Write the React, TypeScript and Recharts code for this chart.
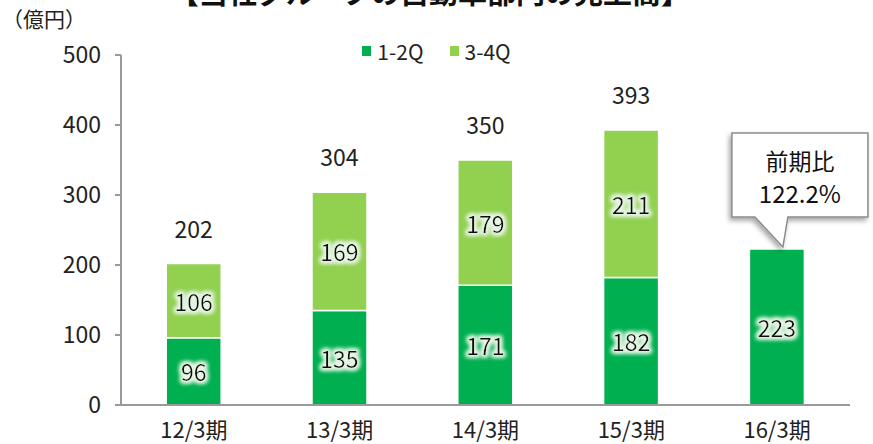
import React from "react";
import { BarChart, Bar, XAxis, YAxis, Legend, LabelList } from "recharts";

const categories = ["12/3期", "13/3期", "14/3期", "15/3期", "16/3期"];
const firstHalf = [96, 135, 171, 182, 223];
const secondHalf: (number | null)[] = [106, 169, 179, 211, null];
const totals: (number | null)[] = [202, 304, 350, 393, null];
const yTicks = [0, 100, 200, 300, 400, 500];
const seriesNames = ["1-2Q", "3-4Q"];
const calloutLines = ["前期比", "122.2%"];
const titleText = "【当社グループの自動車部門の売上高】";
const unitText = "（億円）";

const data = categories.map((c, i) => ({
  name: c,
  h1: firstHalf[i],
  h2: secondHalf[i],
  total: totals[i],
}));

const FONT = "'Noto Sans CJK JP', 'Noto Sans', sans-serif";
const DARK = "#00B050";
const LIGHT = "#92D050";

const InnerLabel = (props: any) => {
  const { x, y, width, height, value } = props;
  if (value == null || !width) return null;
  return (
    <text
      x={x + width / 2}
      y={y + height / 2}
      textAnchor="middle"
      dominantBaseline="central"
      fontSize={23}
      fontFamily={FONT}
      fill="#111"
      filter="url(#glow)"
    >
      {value}
    </text>
  );
};

const TotalLabel = (props: any) => {
  const { x, y, width, index } = props;
  const t = totals[index];
  if (t == null || !width) return null;
  return (
    <text
      x={x + width / 2}
      y={y - 36}
      textAnchor="middle"
      dominantBaseline="central"
      fontSize={23}
      fontFamily={FONT}
      fill="#222"
    >
      {t}
    </text>
  );
};

const CalloutLabel = (props: any) => {
  const { x, y, width, index } = props;
  if (index !== categories.length - 1) return null;
  const cx = x + width / 2;
  const tipX = cx + 6;
  const tipY = y - 2;
  const left = cx - 45;
  const right = cx + 91;
  const top = y - 116;
  const bottom = y - 32;
  const bx = (left + right) / 2;
  const path = `M${left},${top} L${right},${top} L${right},${bottom} L${cx + 11},${bottom} L${tipX},${tipY} L${cx - 22},${bottom} L${left},${bottom} Z`;
  return (
    <g>
      <path d={path} fill="#fff" stroke="#8c8c8c" strokeWidth={1.5} filter="url(#shadow)" />
      <text x={bx} y={top + 27} textAnchor="middle" dominantBaseline="central" fontSize={23} fontFamily={FONT} fill="#111">
        {calloutLines[0]}
      </text>
      <text x={bx} y={top + 60} textAnchor="middle" dominantBaseline="central" fontSize={24} fontFamily={FONT} fill="#111">
        {calloutLines[1]}
      </text>
    </g>
  );
};

const LegendContent = () => {
  const colors = [DARK, LIGHT];
  return (
    <div style={{ display: "flex", justifyContent: "center", fontFamily: FONT, fontSize: 21, color: "#222", lineHeight: "26px" }}>
      {seriesNames.map((n, i) => (
        <div key={n} style={{ display: "flex", alignItems: "center", marginLeft: i ? 26 : 0 }}>
          <div style={{ width: 9, height: 10, background: colors[i], marginRight: 6 }} />
          <span>{n}</span>
        </div>
      ))}
    </div>
  );
};

export default function App() {
  return (
    <div style={{ position: "absolute", left: 0, top: 0, width: 873, height: 444, background: "#fff", overflow: "hidden" }}>
      <svg width={0} height={0} style={{ position: "absolute" }}>
        <defs>
          <filter id="glow" x="-30%" y="-30%" width="160%" height="160%">
            <feMorphology in="SourceAlpha" operator="dilate" radius="2" result="d" />
            <feGaussianBlur in="d" stdDeviation="2.2" result="b" />
            <feFlood floodColor="#e6f5e4" result="f" />
            <feComposite in="f" in2="b" operator="in" result="g" />
            <feMerge>
              <feMergeNode in="g" />
              <feMergeNode in="g" />
              <feMergeNode in="SourceGraphic" />
            </feMerge>
          </filter>
          <filter id="shadow" x="-20%" y="-20%" width="140%" height="140%">
            <feDropShadow dx="-2" dy="3" stdDeviation="2.5" floodColor="#000" floodOpacity="0.35" />
          </filter>
        </defs>
      </svg>
      <BarChart
        width={873}
        height={444}
        data={data}
        margin={{ top: 29, right: 23, bottom: 0, left: 0 }}
        barCategoryGap="31%"
      >
        <XAxis
          dataKey="name"
          height={39}
          axisLine={{ stroke: "#9a9a9a", strokeWidth: 2 }}
          tickLine={{ stroke: "#9a9a9a", strokeWidth: 2 }}
          tickSize={0}
          interval={0}
          tick={{ fontSize: 22, fontFamily: FONT, fill: "#222", dy: 15 }}
        />
        <YAxis
          width={121}
          domain={[0, 500]}
          ticks={yTicks}
          interval={0}
          axisLine={{ stroke: "#9a9a9a", strokeWidth: 2 }}
          tickLine={{ stroke: "#9a9a9a", strokeWidth: 2 }}
          tickSize={6}
          tick={{ fontSize: 23, fontFamily: FONT, fill: "#222", dx: -12 }}
        />
        <Legend
          verticalAlign="top"
          height={26}
          content={<LegendContent />}
          wrapperStyle={{ top: 38, left: 0, width: 873 }}
        />
        <Bar dataKey="h1" name={seriesNames[0]} stackId="a" fill={DARK} stroke="#fff" strokeWidth={1.5} isAnimationActive={false}>
          <LabelList dataKey="h1" content={<InnerLabel />} />
          <LabelList dataKey="h1" content={<CalloutLabel />} />
        </Bar>
        <Bar dataKey="h2" name={seriesNames[1]} stackId="a" fill={LIGHT} stroke="#fff" strokeWidth={1.5} isAnimationActive={false}>
          <LabelList dataKey="h2" content={<InnerLabel />} />
          <LabelList dataKey="h2" content={<TotalLabel />} />
        </Bar>
      </BarChart>
      <svg width={873} height={444} style={{ position: "absolute", left: 0, top: 0, pointerEvents: "none" }}>
        <text x={430} y={4} textAnchor="middle" fontSize={29} fontWeight="bold" fontFamily={FONT} fill="#111">
          {titleText}
        </text>
        <text x={2} y={27} fontSize={21} fontFamily={FONT} fill="#222">
          {unitText}
        </text>
      </svg>
    </div>
  );
}
